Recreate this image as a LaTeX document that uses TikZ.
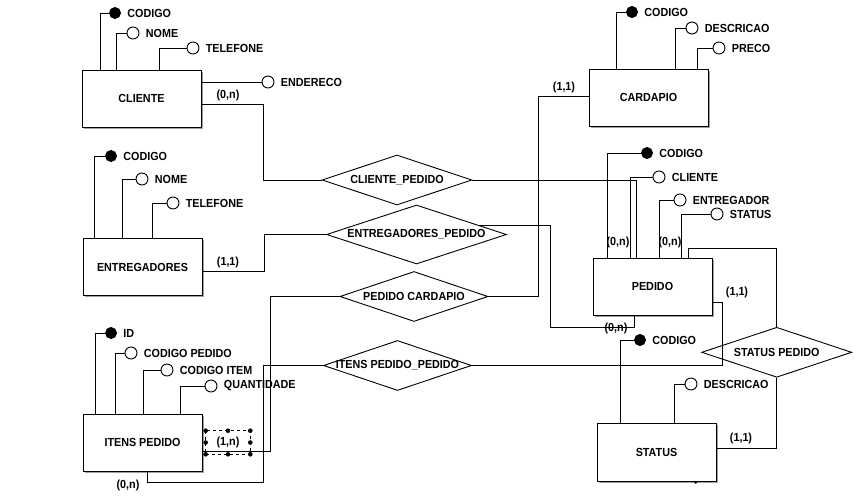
\documentclass[tikz,border=0pt]{standalone}
\usepackage{fontspec}
\setmainfont{Liberation Sans}[FakeStretch=0.92]
\usetikzlibrary{shapes.geometric,shadows,calc}
\tikzset{
  every picture/.style={line width=0.9pt},
  ent/.style={draw, rectangle, fill=white, minimum width=119pt, minimum height=57pt, inner sep=0pt,
    drop shadow={shadow xshift=2pt, shadow yshift=-2pt, fill=gray!75, opacity=1}},
  rel/.style={draw, diamond, fill=white, inner sep=0pt, minimum width=150pt, minimum height=50pt},
  attk/.style={draw, circle, fill=black, minimum size=11pt, inner sep=0pt},
  atto/.style={draw, circle, fill=white, minimum size=12pt, inner sep=0pt},
  every label/.style={inner ysep=1pt, inner xsep=6pt},
  card/.style={inner sep=0pt},
  handle/.style={fill=black, circle, inner sep=0pt, minimum size=4.6pt},
}
\begin{document}
\begin{tikzpicture}[x=1pt, y=-1pt, font=\fontsize{11.7}{13}\selectfont\bfseries]
\fill[white] (0,0) rectangle (855,497);
\useasboundingbox (0,0) rectangle (855,497);

% entities
\node[ent] (cli) at (141.5,98.5) {CLIENTE};
\node[ent] (ent) at (142.5,267) {ENTREGADORES};
\node[ent] (itp) at (142.5,442.5) {ITENS PEDIDO};
\node[ent] (car) at (648.5,97.5) {CARDAPIO};
\node[ent] (ped) at (652.5,286.5) {PEDIDO};
\node[ent, minimum height=58pt] (sta) at (656.5,452) {STATUS};

% relationships
\node[rel] (d1) at (397,180) {};
\node at (d1.center) {CLIENTE\_PEDIDO};
\node[rel, minimum width=180pt, minimum height=59pt] (d2) at (416.5,234.5) {};
\node at (d2.center) {ENTREGADORES\_PEDIDO};
\node[rel, minimum width=148pt] (d3) at (414,296.5) {};
\node at (d3.center) {PEDIDO CARDAPIO};
\node[rel, minimum width=148pt] (d4) at (397.5,365.5) {};
\node at (d4.center) {ITENS PEDIDO\_PEDIDO};
\node[rel] (d5) at (776.7,352.3) {};
\node at (d5.center) {STATUS PEDIDO};

% CLIENTE attributes
\node[attk, label=right:CODIGO] (c1) at (115,13) {};
\node[atto, label=right:NOME] (c2) at (133,33) {};
\node[atto, label=right:TELEFONE] (c3) at (193,48) {};
\node[atto, label=right:ENDERECO] (c4) at (268,82) {};
\draw (100,0 |- cli.north) |- (c1.west);
\draw (116,0 |- cli.north) |- (c2.west);
\draw (159,0 |- cli.north) |- (c3.west);
\draw (cli.east |- c4.west) -- (c4.west);

% ENTREGADORES attributes
\node[attk, label=right:CODIGO] (e1) at (111,156) {};
\node[atto, label=right:NOME] (e2) at (142,179) {};
\node[atto, label=right:TELEFONE] (e3) at (173,203) {};
\draw (94,0 |- ent.north) |- (e1.west);
\draw (122,0 |- ent.north) |- (e2.west);
\draw (152,0 |- ent.north) |- (e3.west);

% ITENS PEDIDO attributes
\node[attk, label=right:ID] (i1) at (111,333) {};
\node[atto, label=right:CODIGO PEDIDO] (i2) at (131,353) {};
\node[atto, label=right:CODIGO ITEM] (i3) at (167,370) {};
\node[atto, label=right:QUANTIDADE] (i4) at (211,386) {};
\draw (95,0 |- itp.north) |- (i1.west);
\draw (115,0 |- itp.north) |- (i2.west);
\draw (143,0 |- itp.north) |- (i3.west);
\draw (180,0 |- itp.north) |- (i4.west);

% CARDAPIO attributes
\node[attk, label=right:CODIGO] (k1) at (632,12) {};
\node[atto, label=right:DESCRICAO] (k2) at (692,28) {};
\node[atto, label=right:PRECO] (k3) at (719,48) {};
\draw (616,0 |- car.north) |- (k1.west);
\draw (675,0 |- car.north) |- (k2.west);
\draw (697,0 |- car.north) |- (k3.west);

% PEDIDO attributes
\node[attk, label=right:CODIGO] (p1) at (647,153) {};
\node[atto, label=right:CLIENTE] (p2) at (659,177) {};
\node[atto, label=right:ENTREGADOR] (p3) at (680,200) {};
\node[atto, label=right:STATUS] (p4) at (717,214) {};
\draw (607,0 |- ped.north) |- (p1.west);
\draw (630,0 |- ped.north) |- (p2.west);
\draw (659,0 |- ped.north) |- (p3.west);
\draw (681,0 |- ped.north) |- (p4.west);

% STATUS attributes
\node[attk, label=right:CODIGO] (s1) at (640,340) {};
\node[atto, label=right:DESCRICAO] (s2) at (691,384) {};
\draw (620,0 |- sta.north) |- (s1.west);
\draw (674,0 |- sta.north) |- (s2.west);

% connectors
\draw (cli.east |- 0,104) -- (263,104) |- (d1.west);
\draw (d1.east) -| (636,0 |- ped.north);
\draw (ent.east |- 0,271) -| (264,0 |- d2.west) -- (d2.west);
\coordinate (d2r) at ($(d2.north)!0.69!(d2.east)$);
\draw (d2r) -- (550,0 |- d2r) -- (550,327) -| (634,0 |- ped.south);
\draw (car.west |- 0,96) -| (538,0 |- d3.east) -- (d3.east);
\draw (d3.west) -| (270,451) -- (itp.east |- 0,451);
\draw (147,0 |- itp.south) -- (147,482) -| (263,0 |- d4.west) -- (d4.west);
\draw (d4.east) -| (722,302) -- (ped.east |- 0,302);
\draw (688,0 |- ped.north) -- (688,248) -| (d5.north);
\draw (d5.south) |- (sta.east |- 0,448);

% cardinalities
\node[card] at (228,95) {(0,n)};
\node[card] at (228,262.5) {(1,1)};
\node[card] at (564,87) {(1,1)};
\node[card] at (618,242) {(0,n)};
\node[card] at (670,242) {(0,n)};
\node[card] at (616,328.5) {(0,n)};
\node[card] at (737,292) {(1,1)};
\node[card] at (741,438.5) {(1,1)};
\node[card] at (128,485.5) {(0,n)};
\node[card] (lab) at (228,442) {(1,n)};

% selection handles around (1,n)
\draw[dashed, line width=0.6pt] (205.7,430.7) rectangle (250.3,454.3);
\foreach \hx in {205.7,228,250.3}{
  \node[handle] at (\hx,430.7) {};
  \node[handle] at (\hx,454.3) {};
}
\node[handle] at (205.7,442.5) {};
\node[handle] at (250.3,442.5) {};
\node[handle, minimum size=3pt] at (695.7,482.3) {};
\end{tikzpicture}
\end{document}
